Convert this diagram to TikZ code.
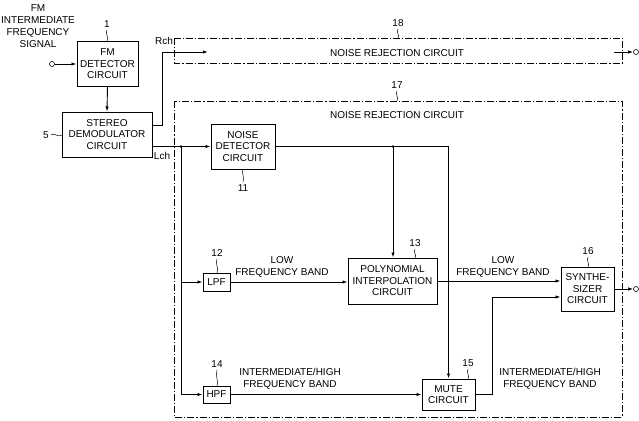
\documentclass[tikz,border=0pt]{standalone}
\usepackage{fontspec}
\setmainfont{Liberation Sans}
\usetikzlibrary{arrows.meta}
\begin{document}
\begin{tikzpicture}[x=1pt,y=-1pt,
  line width=0.9pt,
  blk/.style={draw, line width=1pt, align=center, inner sep=1pt, font=\fontsize{10}{11.5}\selectfont},
  lbl/.style={align=center, inner sep=0pt, font=\fontsize{10}{12}\selectfont},
  num/.style={inner sep=0pt, font=\fontsize{10}{11}\selectfont},
  dd/.style={draw, line width=0.9pt, dash pattern=on 7pt off 2pt on 1.2pt off 2pt},
  arr/.style={-{Latex[length=5pt,width=3.4pt]}},
  lead/.style={line width=0.5pt},
  term/.style={circle, draw, line width=0.6pt, minimum size=5pt, inner sep=0pt},
  jdot/.style={circle, fill, minimum size=2.8pt, inner sep=0pt}]
\useasboundingbox (0,0) rectangle (639,420);

% dash-dot enclosures
\draw[dd] (174,38) rectangle (622,63);
\draw[dd] (174,101) rectangle (622,417);
\node[lbl] (t18) at (397,53) {NOISE REJECTION CIRCUIT};
\node[lbl] (t17) at (397,115) {NOISE REJECTION CIRCUIT};

% blocks
\node[blk, minimum width=61pt, minimum height=44pt] (fmd) at (107.5,64) {FM\\DETECTOR\\CIRCUIT};
\node[blk, minimum width=90pt, minimum height=45pt] (sd) at (107,134.5) {STEREO\\DEMODULATOR\\CIRCUIT};
\node[blk, minimum width=64pt, minimum height=45pt] (nd) at (243,146.5) {NOISE\\DETECTOR\\CIRCUIT};
\node[blk, minimum width=27pt, minimum height=18pt] (lpf) at (216.5,282) {LPF};
\node[blk, minimum width=27pt, minimum height=17pt] (hpf) at (216.5,394.5) {HPF};
\node[blk, minimum width=89pt, minimum height=46pt] (poly) at (392.5,281) {POLYNOMIAL\\INTERPOLATION\\CIRCUIT};
\node[blk, minimum width=53pt, minimum height=31pt] (mute) at (448.5,394.5) {MUTE\\CIRCUIT};
\node[blk, minimum width=53pt, minimum height=44pt] (syn) at (587.5,289) {SYNTHE-\\SIZER\\CIRCUIT};

% input
\node[lbl] (fmlbl) at (38,26) {FM\\INTERMEDIATE\\FREQUENCY\\SIGNAL};
\node[term] (tin) at (52,64) {};
\draw[arr] (tin) -- (fmd.west);
\draw[arr] (fmd.south) -- (sd.north);

% Rch
\coordinate (r1) at (sd.east |- 0,125);
\coordinate (r2) at (162,125);
\coordinate (r3) at (162,52);
\coordinate (r4) at (208,52);
\draw[arr] (r1) -- (r2) -- (r3) -- (r4);
\node[num] (rch) at (164,41) {Rch};
\node[term] (tout1) at (636,52) {};
\coordinate (o1) at (614,52);
\draw[arr] (o1) -- (tout1.west);

% Lch
\coordinate (l1) at (sd.east |- nd.west);
\draw[arr] (l1) -- (nd.west);
\node[num] (lch) at (162,156) {Lch};
\node[jdot] (j1) at (181,146.5) {};
\coordinate (lb) at (181,394.5);
\draw (j1.center) -- (lb);
\draw[arr] (181,282) -- (lpf.west);
\draw[arr] (lb) -- (hpf.west);

% noise detector output
\node[jdot] (j2) at (393,146.5) {};
\coordinate (n1) at (448.5,146.5);
\draw (nd.east) -- (n1);
\draw[arr] (n1) -- (mute.north);
\draw[arr] (j2.center) -- (poly.north -| j2);

% filters
\draw[arr] (lpf.east) -- (poly.west |- lpf.east);
\draw[arr] (hpf.east) -- (mute.west);
\draw[arr] (poly.east |- 0,281) -- (syn.west |- 0,281);
\coordinate (m1) at (492,394.5);
\coordinate (m2) at (492,297);
\draw[arr] (mute.east) -- (m1) -- (m2) -- (syn.west |- m2);
\node[term] (tout2) at (636,289) {};
\draw[arr] (syn.east) -- (tout2.west);

% band labels
\node[lbl] (b1) at (282,266.5) {LOW\\FREQUENCY BAND};
\node[lbl] (b2) at (503,266.5) {LOW\\FREQUENCY BAND};
\node[lbl] (b3) at (290,379) {INTERMEDIATE/HIGH\\FREQUENCY BAND};
\node[lbl] (b4) at (550,379) {INTERMEDIATE/HIGH\\FREQUENCY BAND};

% reference numerals with leaders
\node[num] (n1l) at (107,24) {1};
\draw[lead] (107,30) .. controls (105,34) and (109,36) .. (107,42);
\node[num] (n5l) at (46,135) {5};
\draw[lead] (51,135) .. controls (54,132) and (58,138) .. (62,135);
\node[num] (n18) at (398,23) {18};
\draw[lead] (398,29) .. controls (396,33) and (400,35) .. (398,38);
\node[num] (n17) at (397,85) {17};
\draw[lead] (397,91) .. controls (395,95) and (399,97) .. (397,101);
\node[num] (n11) at (243,188) {11};
\draw[lead] (243,169) .. controls (241,173) and (245,177) .. (243,182);
\node[num] (n12) at (217,253) {12};
\draw[lead] (217,259) .. controls (215,264) and (219,268) .. (217,273);
\node[num] (n13) at (415,243) {13};
\draw[lead] (415,249) .. controls (413,252) and (417,255) .. (415,258);
\node[num] (n14) at (217,364) {14};
\draw[lead] (217,370) .. controls (215,376) and (219,382) .. (217,386);
\node[num] (n15) at (468,363) {15};
\draw[lead] (468,369) .. controls (466,372) and (470,376) .. (468,379);
\node[num] (n16) at (588,251) {16};
\draw[lead] (588,257) .. controls (586,260) and (590,264) .. (588,267);
\end{tikzpicture}
\end{document}
